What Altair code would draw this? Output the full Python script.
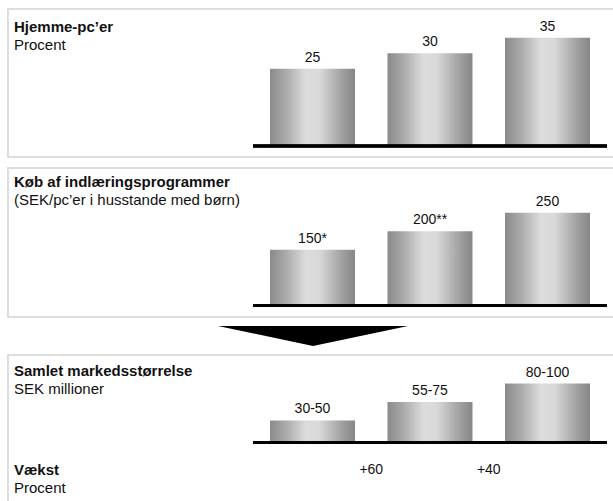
import altair as alt
import pandas as pd

# Three periods shown left to right in every panel
periods = ["1", "2", "3"]

# Panel 1: home PCs, percent
pc_share = [25, 30, 35]
pc_labels = ["25", "30", "35"]

# Panel 2: spending on learning software
spend = [150, 200, 250]
spend_labels = ["150*", "200**", "250"]

# Panel 3: total market size, SEK millions (low - high)
market_low = [30, 55, 80]
market_high = [50, 75, 100]

# Growth between periods, percent
growth = [60, 40]

FONT = "Liberation Sans"

bar_fill = alt.Gradient(
    gradient="linear",
    x1=0, x2=1, y1=0, y2=0,
    stops=[
        alt.GradientStop(offset=0.0, color="#8a8a8a"),
        alt.GradientStop(offset=0.18, color="#a9a9a9"),
        alt.GradientStop(offset=0.42, color="#dcdcdc"),
        alt.GradientStop(offset=0.58, color="#d9d9d9"),
        alt.GradientStop(offset=0.85, color="#a0a0a0"),
        alt.GradientStop(offset=1.0, color="#868686"),
    ],
)

x_enc = alt.X(
    "period:N",
    sort=periods,
    axis=None,
    scale=alt.Scale(range=[253.75, 606.25], paddingInner=0.2766, paddingOuter=0.1383),
)


def panel(values, labels, domain_max, y_range):
    df = pd.DataFrame({"period": periods, "value": values, "label": labels})
    y_scale = alt.Scale(domain=[0, domain_max], range=y_range, nice=False)
    y_enc = alt.Y("value:Q", axis=None, scale=y_scale)
    base = alt.Chart(df)
    bars = base.mark_bar(color=bar_fill).encode(x=x_enc, y=y_enc)
    text = base.mark_text(font=FONT, fontSize=14, dy=-7, baseline="alphabetic",
                          color="#111111").encode(x=x_enc, y=y_enc, text="label:N")
    axis_line = base.mark_rule(color="black", strokeWidth=3).encode(
        x=alt.value(253), x2=alt.value(607), y=alt.datum(0, scale=y_scale)
    )
    return alt.layer(bars, text, axis_line)


p1 = panel(pc_share, pc_labels, 35, [146, 146 - 35 * 3.09])
p2 = panel(spend, spend_labels, 250, [305.5, 305.5 - 250 * 0.371])
p3 = panel(market_low, [f"{lo}-{hi}" for lo, hi in zip(market_low, market_high)],
           80, [442.5, 442.5 - 80 * 0.7375])

# Light grey frames around each panel
frames = alt.Chart(pd.DataFrame({
    "top": [9, 168, 355],
    "bottom": [157, 317, 560],
})).mark_rect(fill=None, stroke="#dedede", strokeWidth=2).encode(
    x=alt.value(8), x2=alt.value(700), y=alt.Y("top:Q", scale=None), y2="bottom:Q"
)

# Panel titles
titles = alt.Chart(pd.DataFrame({
    "text": ["Hjemme-pc’er", "Køb af indlæringsprogrammer", "Samlet markedsstørrelse", "Vækst"],
    "ypos": [27, 182, 371, 470],
})).mark_text(font=FONT, fontSize=15, fontWeight="bold", align="left",
              baseline="middle", color="#111111").encode(
    x=alt.value(14), y=alt.Y("ypos:Q", scale=None), text="text:N"
)
subtitles = alt.Chart(pd.DataFrame({
    "text": ["Procent", "(SEK/pc’er i husstande med børn)", "SEK millioner", "Procent"],
    "ypos": [45, 200, 389, 488],
})).mark_text(font=FONT, fontSize=15, align="left", baseline="middle",
              color="#111111").encode(
    x=alt.value(14), y=alt.Y("ypos:Q", scale=None), text="text:N"
)

# Growth figures sit in the gaps between consecutive bars
growth_df = pd.DataFrame({
    "period": periods[:2],
    "label": [f"+{g}" for g in growth],
})
growth_text = alt.Chart(growth_df).mark_text(
    font=FONT, fontSize=14, dx=58.75, baseline="middle", color="#111111"
).encode(x=x_enc, y=alt.value(470), text="label:N")

# Downward arrow between the input panels and the result panel
arrow = alt.Chart(pd.DataFrame({"k": [0]})).mark_point(
    shape="M-1,-0.105L1,-0.105L0,0.105Z", size=36100, filled=True,
    color="black", opacity=1
).encode(x=alt.value(313), y=alt.value(336))

chart = alt.layer(
    frames, arrow, p1, p2, p3, titles, subtitles, growth_text
).resolve_scale(y="independent").properties(
    width=613, height=501, autosize="none", padding=0, background="white"
).configure_view(stroke=None)

chart.save("out.html", embed_options={"renderer": "svg", "actions": False})
